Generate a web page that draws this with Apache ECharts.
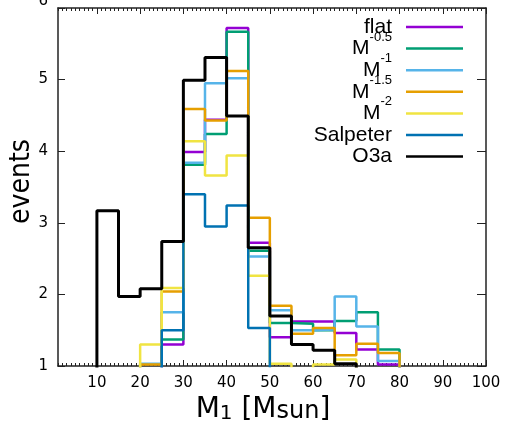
<!DOCTYPE html>
<html>
<head>
<meta charset="utf-8">
<script src="https://cdn.jsdelivr.net/npm/echarts@6/dist/echarts.min.js"></script>
<style>html,body{margin:0;padding:0;background:#fff}#c{width:505px;height:432px}</style>
</head>
<body>
<div id="c"></div>
<script>
// bin lower edges (width 5)
var binEdges = [10, 15, 20, 25, 30, 35, 40, 45, 50, 55, 60, 65, 70, 75];
var binWidth = 5;
var flat     = [0, 0, 0,    1.30, 3.99, 4.44, 5.72, 2.72, 1.40, 1.62, 1.62, 1.46, 1.23, 1.02];
var m05      = [0, 0, 0,    1.37, 3.81, 4.24, 5.67, 2.61, 1.60, 1.59, 1.50, 1.63, 1.75, 1.23];
var m1       = [0, 0, 1.03, 1.75, 3.84, 4.95, 5.02, 2.53, 1.78, 1.50, 1.51, 1.97, 1.55, 1.07];
var m15      = [0, 0, 1.02, 2.04, 4.59, 4.43, 5.12, 3.07, 1.84, 1.45, 1.53, 1.15, 1.31, 1.18];
var m2       = [0, 0, 1.30, 2.09, 4.14, 3.66, 3.94, 2.26, 1.03, 0,    1.02, 1.09, 0,    0];
var salpeter = [0, 0, 0,    1.50, 3.40, 2.95, 3.24, 1.53, 0,    0,    0,    0,    0,    0];
var o3a      = [3.17, 1.97, 2.08, 2.74, 4.99, 5.31, 4.49, 2.65, 1.70, 1.30, 1.22, 1.03, 0, 0];

var seriesNames = ['flat', 'M-0.5', 'M-1', 'M-1.5', 'M-2', 'Salpeter', 'O3a'];
var seriesValues = [flat, m05, m1, m15, m2, salpeter, o3a];
var seriesColors = ['#9400d3', '#009e73', '#56b4e9', '#e69f00', '#f0e442', '#0072b2', '#000000'];
var legendLabels = {
  'flat': '{b|flat}{z| }',
  'M-0.5': '{b|M}{s|-0.5}',
  'M-1': '{b|M}{s|-1}',
  'M-1.5': '{b|M}{s|-1.5}',
  'M-2': '{b|M}{s|-2}',
  'Salpeter': '{b|Salpeter}{z| }',
  'O3a': '{b|O3a}{z| }'
};
var xMajorTicks = [10, 20, 30, 40, 50, 60, 70, 80, 90, 100];

function stepPoints(vals) {
  var pts = [[binEdges[0], 0]];
  for (var i = 0; i < vals.length; i++) pts.push([binEdges[i], vals[i]]);
  var last = binEdges[binEdges.length - 1] + binWidth;
  pts.push([last, vals[vals.length - 1]]);
  pts.push([last, 0]);
  return pts;
}

var AX = '#222';
var tickFont = 'DejaVu Sans';
var titleFont = 'DejaVu Sans';
var condFont = '"DejaVu Sans Condensed", "DejaVu Sans"';
var legFont = 'Liberation Sans';
var SUP_PAD = 23;

var series = seriesNames.map(function (n, i) {
  return {
    name: n, type: 'line', step: 'end', showSymbol: false, symbol: 'none',
    data: stepPoints(seriesValues[i]), clip: true, animation: false,
    color: seriesColors[i],
    itemStyle: { color: seriesColors[i] },
    lineStyle: { color: seriesColors[i], width: n === 'O3a' ? 3 : 2.5 },
    z: 2 + i
  };
});

var chart = echarts.init(document.getElementById('c'), null, { renderer: 'canvas' });
chart.setOption({
  backgroundColor: '#fff',
  animation: false,
  grid: { left: 58, right: 19, top: 8, bottom: 66, containLabel: false, outerBoundsMode: 'none' },
  legend: {
    orient: 'vertical', align: 'right', right: 37, top: 4, itemGap: -6.9,
    icon: 'rect', itemWidth: 57, itemHeight: 2.5, selectedMode: false,
    data: seriesNames,
    formatter: function (n) { return legendLabels[n]; },
    textStyle: {
      fontFamily: legFont, fontSize: 21, color: '#000',
      padding: [0, 9, 0, 0],
      rich: {
        b: { fontFamily: legFont, fontSize: 21, color: '#000' },
        s: { fontFamily: legFont, fontSize: 13, color: '#000', padding: [0, 0, SUP_PAD, 0] },
        z: { fontFamily: legFont, fontSize: 13, color: '#000', width: 0.01, padding: [0, 0, SUP_PAD, 0] }
      }
    }
  },
  xAxis: [
    {
      type: 'value', min: 1, max: 100, position: 'bottom',
      axisLine: { show: true, lineStyle: { color: AX, width: 1.5 } },
      axisTick: { show: true, inside: true, length: 6, customValues: xMajorTicks, lineStyle: { color: AX, width: 1 } },
      axisLabel: { show: true, customValues: xMajorTicks, margin: 10, fontFamily: tickFont, fontSize: 15, color: '#000' },
      splitLine: { show: false },
      name: '{m|M}{s|1}{m| [M}{u|sun}{m|]}', nameLocation: 'middle', nameGap: 29,
      nameTextStyle: {
        fontFamily: titleFont, fontSize: 28, color: '#000', padding: [0, 18, 0, 0],
        rich: {
          m: { fontFamily: titleFont, fontSize: 28, lineHeight: 28, verticalAlign: 'bottom', color: '#000' },
          s: { fontFamily: titleFont, fontSize: 20, lineHeight: 20, verticalAlign: 'bottom', color: '#000' },
          u: { fontFamily: titleFont, fontSize: 24, lineHeight: 24, verticalAlign: 'bottom', color: '#000' }
        }
      }
    },
    {
      type: 'value', min: 1, max: 100, interval: 1, position: 'bottom',
      axisLine: { show: false },
      axisTick: { show: true, inside: true, length: 3, lineStyle: { color: AX, width: 1 } },
      axisLabel: { show: false }, splitLine: { show: false }
    },
    {
      type: 'value', min: 1, max: 100, position: 'top',
      axisLine: { show: true, lineStyle: { color: AX, width: 1.5 } },
      axisTick: { show: true, inside: true, length: 6, customValues: xMajorTicks, lineStyle: { color: AX, width: 1 } },
      axisLabel: { show: false }, splitLine: { show: false }
    },
    {
      type: 'value', min: 1, max: 100, interval: 1, position: 'top',
      axisLine: { show: false },
      axisTick: { show: true, inside: true, length: 3, lineStyle: { color: AX, width: 1 } },
      axisLabel: { show: false }, splitLine: { show: false }
    }
  ],
  yAxis: [
    {
      type: 'value', min: 1, max: 6, interval: 1, position: 'left',
      axisLine: { show: true, lineStyle: { color: AX, width: 1.5 } },
      axisTick: { show: true, inside: true, length: 7, lineStyle: { color: AX, width: 1 } },
      axisLabel: {
        show: true, margin: 10, fontFamily: tickFont, fontSize: 15, color: '#000',
        formatter: function (v) { return v === 6 ? '{t|6}' : String(v); },
        rich: { t: { fontFamily: tickFont, fontSize: 15, color: '#000', padding: [0, 0, 13, 0] } }
      },
      splitLine: { show: false },
      name: 'events', nameLocation: 'middle', nameGap: 22, nameRotate: 90, nameMoveOverlap: false,
      nameTextStyle: { fontFamily: condFont, fontSize: 28, color: '#000', padding: [0, 0, 0, 11] }
    },
    {
      type: 'value', min: 1, max: 6, interval: 1, position: 'right',
      axisLine: { show: true, lineStyle: { color: AX, width: 1.5 } },
      axisTick: { show: true, inside: true, length: 9, lineStyle: { color: AX, width: 1 } },
      axisLabel: { show: false }, splitLine: { show: false }
    }
  ],
  series: series
});
</script>
</body>
</html>
